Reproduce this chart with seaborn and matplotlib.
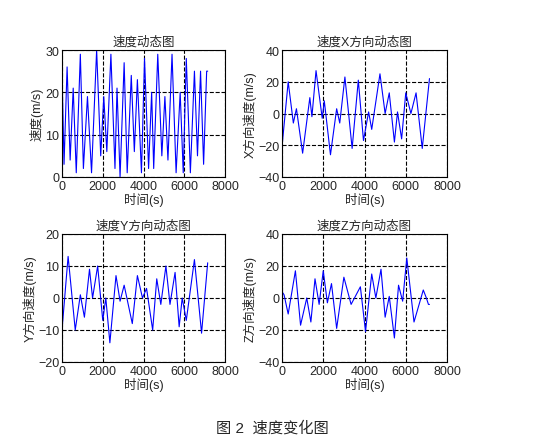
import matplotlib
matplotlib.use('Agg')
import matplotlib.pyplot as plt
import seaborn as sns

# turning points (time s, value m/s)
speed_t = [0, 100, 250, 400, 550, 700, 900, 1050, 1250, 1450, 1700, 1900, 2050, 2200, 2400, 2600,
           2700, 2850, 3050, 3200, 3400, 3550, 3700, 3900, 4050, 4250, 4400, 4500, 4700, 4900, 5050,
           5200, 5400, 5600, 5800, 5950, 6100, 6300, 6500, 6650, 6800, 6950, 7100, 7150]
speed_v = [25, 3, 26, 4, 21, 1, 29, 2, 19, 1, 30, 5, 19, 6, 29, 2,
           21, 0, 27, 1, 24, 6, 23, 1, 28, 2, 20, 2, 29, 5, 19,
           4, 29, 1, 20, 1, 28, 1, 25, 5, 25, 3, 25, 25]

vx_t = [0, 300, 550, 700, 1000, 1350, 1450, 1650, 1950, 2050, 2350, 2650, 2800, 3050, 3400, 3700,
        3950, 4200, 4350, 4750, 5000, 5200, 5450, 5600, 5800, 6000, 6250, 6500, 6800, 7150]
vx_v = [-21, 20, -6, 3, -25, 10, -2, 27, -3, 8, -26, 3, -6, 23, -22, 21,
        -17, 1, -10, 25, 0, 13, -18, 1, -16, 13, 0, 13, -22, 22]

vy_t = [0, 300, 650, 900, 1100, 1350, 1500, 1750, 2000, 2150, 2350, 2650, 2850, 3050, 3450, 3700,
        3950, 4150, 4450, 4650, 4850, 5100, 5300, 5550, 5750, 5900, 6100, 6500, 6850, 7150]
vy_v = [-10, 13, -10, 1, -6, 9, 0, 10, -7, 0, -14, 7, -1, 4, -8, 7,
        0, 3, -10, 6, -2, 10, -2, 8, -9, 0, -7, 12, -11, 11]

vz_t = [0, 100, 300, 650, 900, 1200, 1400, 1600, 1800, 2000, 2200, 2400, 2650, 3000, 3350, 3800,
        4050, 4350, 4550, 4800, 5000, 5200, 5450, 5650, 5850, 6050, 6400, 6850, 7000, 7100, 7150]
vz_v = [4, 2, -10, 17, -17, 0, -15, 12, -4, 17, -3, 9, -19, 13, -4, 7,
        -21, 15, 0, 18, -12, 1, -25, 8, -2, 25, -15, 5, 0, -4, -4]

sns.set_style('white')
plt.rcParams['font.family'] = ['Liberation Sans', 'Noto Sans CJK SC', 'DejaVu Sans']
plt.rcParams['font.size'] = 9

fig = plt.figure(figsize=(5.38, 4.39), dpi=100)
W, H = 538, 439

def box(x0, y0, x1, y1):
    return [x0 / W, 1 - y1 / H, (x1 - x0) / W, (y1 - y0) / H]

panels = [
    (box(62, 51, 225, 178), speed_t, speed_v, (0, 30), [0, 10, 20, 30], '速度动态图', '速度(m/s)'),
    (box(282, 51, 447, 178), vx_t, vx_v, (-40, 40), [-40, -20, 0, 20, 40], '速度X方向动态图', 'X方向速度(m/s)'),
    (box(62, 235, 225, 363), vy_t, vy_v, (-20, 20), [-20, -10, 0, 10, 20], '速度Y方向动态图', 'Y方向速度(m/s)'),
    (box(282, 235, 447, 363), vz_t, vz_v, (-40, 40), [-40, -20, 0, 20, 40], '速度Z方向动态图', 'Z方向速度(m/s)'),
]

for rect, t, v, ylim, yt, title, ylabel in panels:
    ax = fig.add_axes(rect)
    sns.lineplot(x=t, y=v, ax=ax, color='blue', linewidth=0.8)
    ax.set_xlim(0, 8000)
    ax.set_ylim(*ylim)
    ax.set_xticks([0, 2000, 4000, 6000, 8000])
    ax.set_yticks(yt)
    ax.grid(True, color='black', linestyle='--', linewidth=0.8)
    for s in ax.spines.values():
        s.set_color('black')
        s.set_linewidth(0.8)
    ax.tick_params(direction='in', length=3, labelsize=9, pad=2)
    ax.set_title(title, fontsize=9, pad=4)
    ax.set_xlabel('时间(s)', fontsize=9, labelpad=0)
    ax.set_ylabel(ylabel, fontsize=9, labelpad=1)

fig.text(272 / W, 1 - 428 / H, '图 2  速度变化图', ha='center', va='center', fontsize=11)

plt.savefig('out.png', dpi=100)
